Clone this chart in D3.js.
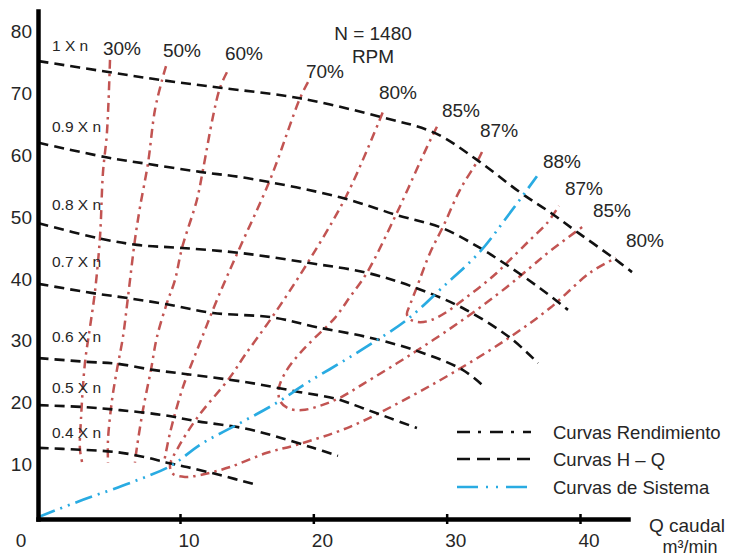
<!DOCTYPE html>
<html>
<head>
<meta charset="utf-8">
<script src="https://cdn.jsdelivr.net/npm/d3@7"></script>
<style>
  html, body { margin: 0; padding: 0; background: #fff; }
  svg { display: block; }
  text { font-family: "Liberation Sans", Arial, sans-serif; fill: #262626; }
</style>
</head>
<body>
<svg id="chart" width="730" height="558"></svg>
<script>
// Head–flow (H–Q) curves of the pump at fractions of nominal speed
const speedLabels = ["1 X n", "0.9 X n", "0.8 X n", "0.7 X n", "0.6 X n", "0.5 X n", "0.4 X n"];
const speedLabelHead = [76.8, 63.7, 51.1, 41.9, 29.8, 21.6, 14.3];
const hqFlow = [
  [-0.6, 4.75, 8.7, 13, 19, 25, 29.1, 32.3, 35.5, 37.8, 39.9, 42.5, 43.9],
  [-0.6, 4.37, 7.52, 11.5, 15, 22, 26.3, 29.7, 32.5, 34.75, 37, 39.1],
  [-0.6, 3.85, 6.78, 10.15, 14.5, 19.6, 24, 27.5, 31.2, 34.75, 36.85],
  [-0.6, 3.47, 6.1, 9.02, 12.47, 16.9, 20.27, 24.25, 28, 31.2, 32.65],
  [-0.6, 3.02, 5.27, 7.97, 10.52, 15, 19, 21.77, 23.72, 25.75, 27.77],
  [-0.6, 2.72, 5.5, 8.72, 11.27, 14.72, 17.27, 19.97, 21.85],
  [-0.6, 2.5, 5.27, 7.37, 9.02, 10.52, 13, 15.77]
];
const hqHead = [
  [75.2, 73.4, 72.1, 70.9, 69.2, 66.2, 63.6, 59.2, 54.0, 50.7, 47.4, 43.4, 41.1],
  [62.0, 59.7, 58.6, 57.3, 56.3, 53.2, 50.3, 48.2, 45.0, 41.9, 38.5, 35.0],
  [49.0, 46.6, 45.5, 45.0, 44.2, 42.6, 41.0, 38.7, 35.3, 30.5, 26.4],
  [39.2, 37.7, 36.9, 35.9, 34.5, 33.8, 32.2, 30.5, 28.2, 25.3, 22.9],
  [27.2, 26.6, 26.3, 25.3, 24.6, 23.3, 21.7, 20.6, 19.1, 17.5, 15.9],
  [19.6, 19.3, 18.8, 18.0, 17.0, 15.9, 14.5, 12.7, 11.4],
  [12.7, 12.4, 12.0, 11.2, 10.3, 9.6, 8.3, 6.7]
];

// Iso-efficiency curves (the 80, 85 and 87 % contours close into a U)
const effFlow = [
  [4.75, 4.52, 4.22, 4.0, 3.62, 3.25, 2.87, 2.57, 2.5, 2.72],
  [8.95, 8.65, 8.12, 7.6, 7.0, 6.62, 6.1, 5.72, 5.27, 4.9, 4.6, 4.6],
  [13.52, 13.0, 12.47, 11.72, 11.27, 10.15, 9.62, 9.02, 8.27, 7.82, 7.22, 6.77, 6.62],
  [19.6, 19.0, 16.75, 14.35, 12.77, 11.5, 10.22, 9.25, 8.8],
  [25.2, 22.52, 19.6, 16.9, 14.87, 13.75, 11.27, 9.85, 9.25, 9.47, 10.37, 11.5, 13.75, 16.52, 18.77, 22.75, 27.47, 31.22, 34.75, 37.75, 40.75, 42.7],
  [29.27, 28.52, 26.27, 24.02, 22.75, 21.62, 20.12, 19.0, 18.02, 17.42, 17.5, 18.1, 19.15, 20.5, 22.0, 23.72, 27.47, 31.22, 34.52, 36.25, 37.75, 40.3],
  [32.65, 32.35, 31.0, 29.72, 28.75, 27.77, 27.25, 27.02, 27.32, 28.0, 28.9, 30.1, 31.22, 32.5, 33.77, 34.75, 36.25, 37.52, 38.42]
];
const effHead = [
  [75.4, 63.6, 57.1, 46.8, 37.9, 32.2, 26.4, 17.2, 12.4, 9.8],
  [74.4, 72.1, 67.3, 58.7, 51.6, 46.3, 37.1, 30.6, 25.3, 20.4, 14.0, 10.3],
  [73.4, 70.9, 66.2, 57.6, 52.8, 45.0, 39.8, 36.1, 30.6, 25.3, 18.8, 12.8, 10.3],
  [71.8, 69.2, 56.0, 44.4, 36.6, 29.7, 22.5, 15.1, 10.3],
  [66.9, 53.6, 42.7, 33.8, 27.7, 24.1, 17.5, 12.7, 9.9, 8.5, 8.0, 8.3, 9.6, 11.9, 13.2, 16.1, 21.2, 25.8, 30.6, 35.3, 41.0, 43.4],
  [64.6, 61.3, 50.7, 41.0, 37.1, 33.7, 30.5, 28.0, 25.3, 22.4, 20.3, 19.1, 18.8, 19.5, 20.8, 23.0, 28.0, 33.4, 38.7, 41.8, 44.5, 48.6],
  [60.5, 59.2, 54.4, 48.4, 44.2, 38.7, 35.8, 34.3, 33.4, 33.0, 33.4, 34.8, 36.6, 38.7, 41.0, 43.1, 46.3, 49.0, 51.8]
];

// Efficiency labels: tops of the left branches, then ends of the right branches
const topLabelText = ["30%", "50%", "60%", "70%", "80%", "85%", "87%"];
const topLabelFlow = [5.65, 10.15, 14.8, 20.87, 26.35, 31.07, 33.93];
const topLabelHead = [76.2, 75.9, 75.4, 72.5, 69.1, 66.2, 62.9];
const sideLabelText = ["88%", "87%", "85%", "80%"];
const sideLabelFlow = [38.65, 40.3, 42.4, 44.87];
const sideLabelHead = [57.9, 53.6, 50.0, 45.2];

// System curve
const sysFlow = [-0.65, 2.72, 6.47, 9.4, 11.5, 14.5, 17.27, 19.52, 22.0, 24.47, 27.02, 29.72, 32.5, 34.52, 36.77];
const sysHead = [1.5, 4.3, 7.2, 9.9, 13.2, 16.7, 20.0, 23.2, 26.4, 29.7, 33.4, 38.7, 44.4, 50.0, 56.6];

const xTicks = [10, 20, 30, 40];
const yTicks = [10, 20, 30, 40, 50, 60, 70, 80];
const legendText = ["Curvas Rendimiento", "Curvas H \u2013 Q", "Curvas de Sistema"];

const svg = d3.select("#chart");
const x = d3.scaleLinear().domain([-0.65, 43.6]).range([38, 628]);
const y = d3.scaleLinear().domain([1.2, 83.3]).range([519, 11]);

const RED = "#c25452", BLUE = "#29abe2", BLACK = "#111";
const DASH_EFF = "9 5 2.5 5", DASH_HQ = "10 6", DASH_SYS = "18 6 2 6 2 6";

const line = d3.line()
  .x(d => x(d[0]))
  .y(d => y(d[1]))
  .curve(d3.curveCatmullRom.alpha(0.5));

const zip = (a, b) => a.map((v, i) => [v, b[i]]);

// efficiency contours
svg.append("g").selectAll("path")
  .data(effFlow.map((f, i) => zip(f, effHead[i])))
  .join("path")
  .attr("d", line)
  .attr("fill", "none")
  .attr("stroke", RED)
  .attr("stroke-width", 2.5)
  .attr("stroke-dasharray", DASH_EFF);

// H–Q curves
svg.append("g").selectAll("path")
  .data(hqFlow.map((f, i) => zip(f, hqHead[i])))
  .join("path")
  .attr("d", line)
  .attr("fill", "none")
  .attr("stroke", BLACK)
  .attr("stroke-width", 2.6)
  .attr("stroke-dasharray", DASH_HQ);

// system curve
svg.append("path")
  .datum(zip(sysFlow, sysHead))
  .attr("d", line)
  .attr("fill", "none")
  .attr("stroke", BLUE)
  .attr("stroke-width", 2.7)
  .attr("stroke-dasharray", DASH_SYS);

// axes
const xAxis = svg.append("g")
  .attr("transform", `translate(0,${y.range()[0]})`)
  .call(d3.axisBottom(x).tickValues(xTicks).tickSizeOuter(0).tickSizeInner(5).tickPadding(0));
xAxis.select(".domain").attr("stroke", "#000").attr("stroke-width", 4.5).attr("stroke-linecap", "square");
xAxis.selectAll(".tick line").attr("y1", -5).attr("y2", 5).attr("stroke-width", 2.5).attr("stroke", "#000");
xAxis.selectAll(".tick text")
  .attr("text-anchor", "start").attr("x", -2).attr("y", 28).attr("dy", 0)
  .style("font-size", "19px").attr("fill", "#262626");

const yAxis = svg.append("g")
  .attr("transform", `translate(${x.range()[0]},0)`)
  .call(d3.axisLeft(y).tickValues(yTicks).tickSizeOuter(0).tickSize(0).tickPadding(6));
yAxis.select(".domain").attr("stroke", "#000").attr("stroke-width", 4.5).attr("stroke-linecap", "square");
yAxis.selectAll(".tick text").style("font-size", "19px").attr("fill", "#262626");
xAxis.attr("font-family", null); yAxis.attr("font-family", null);

// origin label
svg.append("text")
  .attr("x", x.range()[0] - 17).attr("y", 547)
  .attr("text-anchor", "middle").style("font-size", "19px").text("0");

// speed labels
svg.append("g").selectAll("text")
  .data(speedLabels)
  .join("text")
  .attr("x", x(0.4))
  .attr("y", (d, i) => y(speedLabelHead[i]))
  .style("font-size", "15.5px")
  .text(d => d);

// efficiency labels
svg.append("g").selectAll("text")
  .data(topLabelText.map((t, i) => [t, topLabelFlow[i], topLabelHead[i]])
    .concat(sideLabelText.map((t, i) => [t, sideLabelFlow[i], sideLabelHead[i]])))
  .join("text")
  .attr("x", d => x(d[1]))
  .attr("y", d => y(d[2]))
  .attr("text-anchor", "middle")
  .style("font-size", "19px")
  .text(d => d[0]);

// speed annotation
svg.append("text").attr("x", 373).attr("y", 40).attr("text-anchor", "middle")
  .style("font-size", "19px").text("N = 1480");
svg.append("text").attr("x", 373).attr("y", 63).attr("text-anchor", "middle")
  .style("font-size", "19px").text("RPM");

// axis title
svg.append("text").attr("x", 687).attr("y", 532).attr("text-anchor", "middle")
  .style("font-size", "19px").text("Q caudal");
svg.append("text").attr("x", 690).attr("y", 553).attr("text-anchor", "middle")
  .style("font-size", "18px").text("m\u00b3/min");

// legend
const legendStyles = [
  { color: "#111", dash: "13 8 3 9" },
  { color: "#111", dash: "13 7" },
  { color: BLUE, dash: "21 8 2 8 2 8" }
];
const legendRowY = [432, 459, 487];
const lg = svg.append("g").selectAll("g")
  .data(legendText)
  .join("g")
  .attr("transform", (d, i) => `translate(0,${legendRowY[i]})`);
lg.append("line")
  .attr("x1", 457).attr("x2", 531).attr("y1", 0).attr("y2", 0)
  .attr("stroke", (d, i) => legendStyles[i].color)
  .attr("stroke-width", 2.6)
  .attr("stroke-dasharray", (d, i) => legendStyles[i].dash);
lg.append("text")
  .attr("x", 553).attr("y", 7)
  .style("font-size", "18.5px")
  .text(d => d);
</script>
</body>
</html>
